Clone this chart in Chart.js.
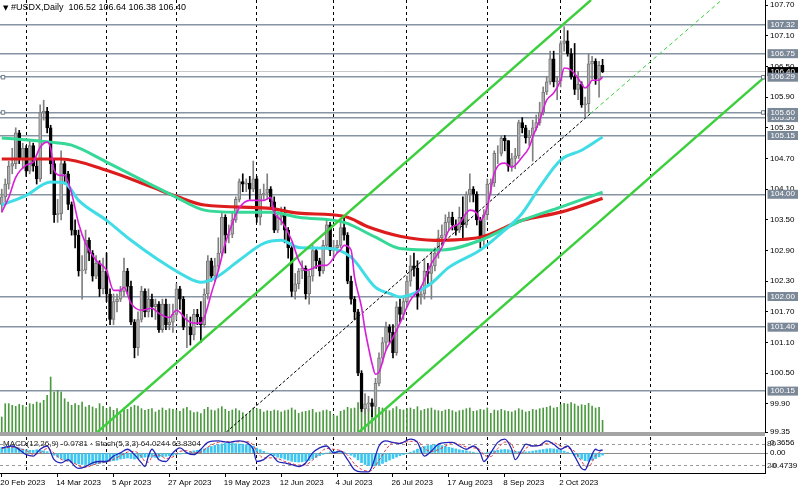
<!DOCTYPE html>
<html><head><meta charset="utf-8">
<script src="https://cdn.jsdelivr.net/npm/chart.js"></script>
<style>
html,body{margin:0;padding:0;background:#fff;}
#wrap{position:relative;width:800px;height:490px;overflow:hidden;background:#fff;font-family:"Liberation Sans",Arial,sans-serif;}
canvas{position:absolute;left:0;}
#main{top:0}
#ind{top:436px}
#sep{position:absolute;left:0;top:432px;width:765px;height:4px;background:#a4a4a4;}
#hdr{position:absolute;left:3px;top:2px;font-size:9px;color:#000;white-space:pre;}
#hdr .tri{font-size:7px;font-family:"DejaVu Sans",sans-serif;}
#indlbl{position:absolute;left:3px;top:439px;font-size:8px;color:#222;white-space:pre;}
</style></head>
<body><div id="wrap">
<canvas id="main" width="800" height="445"></canvas>
<div id="sep"></div>
<canvas id="ind" width="800" height="54"></canvas>
<div id="hdr"><span class="tri">▼</span> #USDX,Daily  106.52 106.64 106.38 106.40</div>
<div id="indlbl">MACD(12,26,9) -0.0781 · Stoch(5,3,3) 64.0244 63.8304</div>
</div>
<script>
// ---------- DATA ----------
// bar index 0 = 20 Feb 2023, one bar per weekday, last bar (172) = 18 Oct 2023
const openP = [
103.80,103.95,104.20,104.55,104.60,105.20,104.70,104.90,104.45,104.95,
104.55,104.30,105.60,105.62,105.30,104.60,103.60,103.62,104.60,104.40,
103.80,103.30,103.20,102.50,102.52,103.10,102.85,102.40,102.65,102.15,
102.50,102.05,101.55,101.90,101.95,102.10,102.50,102.20,101.50,101.00,
101.55,102.10,101.70,101.95,101.80,101.85,101.35,101.85,101.45,101.50,
101.65,102.15,101.95,101.40,101.40,101.25,101.65,101.60,101.45,102.05,
102.70,102.40,102.60,102.85,103.55,103.20,103.22,103.50,103.90,104.25,
104.20,104.22,104.10,104.30,103.55,104.00,104.02,104.10,103.85,103.30,
103.55,103.60,103.30,102.95,102.10,102.25,102.50,102.55,102.05,102.40,
102.90,102.70,102.50,103.00,103.40,102.90,102.95,103.00,103.35,103.20,
102.30,101.95,101.70,100.50,99.80,99.90,99.92,99.85,100.30,100.80,
101.10,101.40,101.30,100.90,101.80,101.65,101.90,102.30,102.60,102.55,
102.00,102.05,102.50,102.45,102.60,102.85,103.15,103.20,103.45,103.55,
103.40,103.30,103.55,103.40,104.00,104.10,104.00,103.50,103.15,103.60,
104.20,104.22,104.80,104.80,105.10,105.05,104.55,104.70,104.75,105.40,
105.30,105.10,105.15,105.30,105.40,105.60,106.00,106.20,106.65,106.20,
106.22,106.95,107.00,106.75,106.30,106.05,106.15,105.75,105.77,106.55,
106.60,106.25,106.52];
const highP = [
104.10,104.30,104.65,104.90,105.30,105.25,105.00,104.95,105.05,105.00,
104.70,105.75,105.84,105.70,105.35,104.70,103.90,104.85,104.65,104.45,
103.85,103.50,103.30,102.80,103.30,103.15,102.90,102.80,102.70,102.75,
102.85,102.15,102.05,102.05,102.20,102.75,102.55,102.30,101.55,101.70,
102.20,102.15,102.15,102.05,101.95,101.90,101.95,101.95,101.85,101.85,
102.25,102.20,102.00,101.65,101.60,101.75,101.75,101.90,102.15,102.80,
102.75,102.75,103.15,103.65,103.60,103.40,103.65,103.95,104.30,104.40,
104.30,104.35,104.65,104.35,104.10,104.20,104.40,104.15,103.95,103.65,
103.75,103.75,103.35,103.05,102.45,102.55,102.70,102.60,102.50,103.00,
102.95,102.75,103.10,103.50,103.45,103.10,103.10,103.50,103.55,103.25,
102.40,102.00,101.75,100.55,100.10,100.05,100.00,100.40,100.90,101.20,
101.50,101.45,101.45,101.90,101.95,102.00,102.40,102.80,102.85,102.70,
102.20,102.75,102.65,102.90,102.95,103.30,103.40,103.60,103.65,103.65,
103.50,103.75,103.95,104.05,104.40,104.15,104.05,103.55,103.70,104.30,
104.30,104.85,104.95,105.15,105.15,105.05,104.80,104.90,105.45,105.50,
105.35,105.25,105.45,105.55,105.80,106.10,106.30,106.80,106.80,106.30,
107.00,107.28,107.20,106.85,106.95,106.40,106.20,105.90,106.75,106.70,
106.65,106.60,106.64];
const lowP = [
103.65,103.85,104.10,104.40,104.50,104.60,104.50,104.35,104.40,104.45,
104.20,104.25,105.45,105.20,104.40,103.45,103.45,103.50,104.20,103.70,
103.20,102.95,102.40,101.95,102.45,102.70,102.30,102.35,102.00,102.05,
101.90,101.45,101.45,101.70,101.90,102.00,102.05,101.45,100.80,100.85,
101.50,101.60,101.60,101.60,101.55,101.30,101.30,101.35,101.35,101.30,
101.55,101.75,101.35,101.00,101.05,101.15,101.45,101.10,101.40,101.95,
102.30,102.30,102.50,102.80,102.85,103.05,103.15,103.45,103.85,104.05,
104.05,103.90,104.05,103.45,103.40,103.90,103.90,103.75,103.25,103.25,
103.40,103.05,102.75,102.00,101.95,102.15,102.35,101.95,101.85,102.30,
102.55,102.40,102.45,102.95,102.80,102.75,102.85,102.95,103.10,102.25,
101.85,101.55,100.45,99.75,99.70,99.75,99.65,99.80,100.25,100.70,
100.95,101.10,100.80,100.85,101.50,101.55,101.80,102.20,102.40,101.75,
101.85,101.95,102.25,101.95,102.50,102.75,103.00,103.10,103.30,103.30,
103.20,103.25,103.10,103.35,103.85,103.85,103.40,102.95,103.00,103.50,
104.00,104.15,104.60,104.75,104.85,104.45,104.45,104.50,104.70,105.20,
105.00,104.95,104.65,105.25,105.35,105.55,105.95,106.15,106.10,105.85,
106.10,106.80,106.70,106.25,105.95,105.85,105.70,105.52,105.60,106.25,
106.15,105.90,106.38];
const closeP = [
103.95,104.20,104.55,104.60,105.20,104.70,104.90,104.45,104.95,104.55,
104.30,105.60,105.62,105.30,104.60,103.60,103.62,104.60,104.40,103.80,
103.30,103.20,102.50,102.52,103.10,102.85,102.40,102.65,102.15,102.50,
102.05,101.55,101.90,101.95,102.10,102.50,102.20,101.50,101.00,101.55,
102.10,101.70,101.95,101.80,101.85,101.35,101.85,101.45,101.50,101.65,
102.15,101.95,101.40,101.40,101.25,101.65,101.60,101.45,102.05,102.70,
102.40,102.60,102.85,103.55,103.20,103.22,103.50,103.90,104.25,104.20,
104.22,104.10,104.30,103.55,104.00,104.02,104.10,103.85,103.30,103.55,
103.60,103.30,102.95,102.10,102.25,102.50,102.55,102.05,102.40,102.90,
102.70,102.50,103.00,103.40,102.90,102.95,103.00,103.35,103.20,102.30,
101.95,101.70,100.50,99.80,99.90,99.92,99.85,100.30,100.80,101.10,
101.40,101.30,100.90,101.80,101.65,101.90,102.30,102.60,102.55,102.00,
102.05,102.50,102.45,102.60,102.85,103.15,103.20,103.45,103.55,103.40,
103.30,103.55,103.40,104.00,104.10,104.00,103.50,103.15,103.60,104.20,
104.22,104.80,104.80,105.10,105.05,104.55,104.70,104.75,105.40,105.30,
105.10,105.15,105.30,105.40,105.60,106.00,106.20,106.65,106.20,106.22,
106.95,107.00,106.75,106.30,106.05,106.15,105.75,105.77,106.55,106.60,
106.25,106.52,106.40];
const volumes = [
45,85,85,80,77,83,80,75,85,83,90,87,95,110,165,120,125,120,100,90,
80,85,80,90,75,80,75,70,85,77,70,75,65,70,55,72,68,75,80,78,
70,65,68,70,60,66,72,65,70,68,66,62,70,74,64,58,60,55,68,74,
66,64,70,76,68,62,66,70,64,58,52,62,72,70,68,60,64,62,66,64,
60,64,66,72,66,56,60,62,64,68,58,60,64,66,62,50,48,62,66,74,
70,72,88,92,80,70,66,70,74,72,66,64,70,76,68,66,70,72,68,76,
64,68,70,72,66,64,62,66,68,64,60,64,66,70,72,62,64,68,66,72,
56,66,64,68,64,62,60,64,70,66,60,62,68,66,70,72,74,78,72,74,
82,86,84,88,84,78,82,80,86,78,72,74,35];
// moving averages, sampled [bar index, price]
const maMagenta = [[0,103.65],[2,103.94],[4,104.33],[7,104.57],[9,104.63],[11,104.92],[13,105.02],[14,104.90],[15,104.47],[17,104.37],[18,104.37],[20,104.02],[22,103.43],[24,103.04],[27,102.71],[30,102.51],[32,102.12],[34,102.12],[35,102.18],[37,101.87],[40,101.73],[43,101.77],[45,101.67],[48,101.59],[50,101.73],[53,101.54],[55,101.48],[57,101.48],[58,101.59],[60,102.06],[62,102.51],[64,103.04],[66,103.43],[68,103.73],[71,103.88],[73,103.88],[75,103.88],[77,103.94],[78,103.65],[80,103.49],[83,103.10],[85,102.71],[87,102.51],[89,102.55],[91,102.61],[93,102.61],[96,102.85],[97,102.91],[98,103.00],[100,102.91],[101,102.38],[103,101.79],[104,101.35],[105,101.00],[106,100.69],[107,100.48],[108,100.52],[110,100.95],[112,101.20],[114,101.48],[117,101.93],[120,102.18],[123,102.65],[126,102.96],[128,103.30],[131,103.43],[134,103.69],[136,103.63],[137,103.49],[139,103.75],[140,104.08],[141,104.41],[144,104.61],[146,104.53],[149,104.73],[151,104.92],[152,105.12],[154,105.45],[156,105.84],[158,105.98],[160,106.23],[161,106.47],[163,106.43],[165,106.27],[167,106.08],[168,106.13],[169,106.23],[171,106.23],[172,106.29]];
const maCyan = [[0,103.79],[7,103.98],[14,104.24],[18,104.22],[22,103.88],[30,103.49],[37,103.10],[45,102.71],[53,102.38],[57,102.28],[61,102.36],[68,102.71],[75,103.04],[80,103.10],[85,102.96],[94,102.94],[100,102.77],[107,102.18],[111,102.06],[114,101.99],[118,102.06],[123,102.26],[128,102.57],[137,102.91],[143,103.24],[149,103.63],[154,104.14],[160,104.67],[166,104.86],[172,105.12]];
const maTeal = [[0,105.10],[14,105.02],[20,104.96],[30,104.63],[43,104.18],[50,103.94],[58,103.69],[67,103.65],[77,103.65],[85,103.55],[98,103.45],[107,103.16],[114,102.94],[126,102.91],[137,103.10],[149,103.49],[160,103.75],[172,104.04]];
const maRed = [[0,104.69],[17,104.69],[30,104.47],[43,104.14],[50,103.96],[58,103.79],[76,103.73],[85,103.63],[98,103.57],[105,103.36],[114,103.18],[124,103.10],[137,103.16],[149,103.49],[160,103.65],[172,103.92]];
// trend lines [bar index, price]
const channelUpper = [[27.4,99.35],[168.7,107.80]];
const channelLower = [[102.3,99.35],[218.5,106.30]];
const midLine = [[64.3,99.35],[168.4,105.57]];
const midRay = [[168.4,105.57],[206.1,107.80]];
// horizontal levels (label drawing order: later ones are painted on top)
const lastPrice = 106.40;
const levelLines = [107.32,106.75,106.29,105.50,105.60,105.15,104.00,102.00,101.40,100.15];
const levelLabelOrder = [107.32,106.75,106.40,106.29,105.50,105.60,105.15,104.00,102.00,101.40,100.15];
const levelHandles = [[0.35,106.29],[218.0,106.29],[0.35,105.60],[218.0,105.60]];
const priceTicks = [107.70,107.10,106.50,105.90,105.30,104.70,104.10,103.50,102.90,102.30,101.70,101.10,100.50,99.90,99.35];
// indicator pane
const macdHist = [
0.20,0.22,0.24,0.22,0.20,0.18,
0.14,0.12,0.10,0.10,0.12,0.10,0.08,0.05,
0.00,-0.08,-0.15,-0.20,-0.25,
-0.30,-0.35,-0.38,-0.40,-0.42,-0.42,-0.43,-0.42,-0.40,-0.38,-0.36,-0.33,-0.30,-0.28,-0.26,
-0.22,-0.20,-0.18,-0.20,-0.22,-0.20,-0.17,-0.15,-0.14,-0.15,-0.16,-0.15,-0.13,-0.12,-0.10,-0.08,-0.06,-0.04,-0.02,
0.02,0.05,0.08,0.10,0.12,0.15,0.20,0.24,0.28,0.30,0.33,0.35,0.3656,0.36,0.34,0.33,0.32,0.30,0.28,0.25,
0.18,0.12,0.06,0.00,-0.05,-0.10,-0.15,-0.18,-0.22,-0.26,-0.30,-0.32,-0.33,-0.32,-0.30,-0.27,-0.22,-0.16,-0.10,-0.05,
0.00,0.04,0.06,0.06,0.05,0.03,-0.02,
-0.08,-0.15,-0.25,-0.35,-0.42,-0.46,-0.4739,-0.46,-0.43,-0.38,-0.32,-0.26,-0.20,-0.15,-0.10,-0.06,-0.02,0.03,
0.08,0.14,0.20,0.24,0.27,0.29,0.30,0.29,0.27,0.24,0.21,0.18,0.15,0.12,0.10,0.08,0.05,0.03,
0.00,-0.02,0.00,0.03,0.05,
0.08,0.10,0.12,0.13,0.12,0.09,0.06,0.05,0.04,0.04,0.05,0.07,0.09,0.11,0.13,0.15,0.16,0.15,0.13,
0.10,0.07,0.03,-0.02,-0.08,-0.15,-0.22,-0.28,-0.30,-0.26,-0.20,-0.14,-0.0781];
const stochK = [[0,70],[3,75],[7,51],[9,47],[11,66],[13,75],[15,37],[17,28],[19,37],[21,18],[22,13],[24,18],[26,28],[28,32],[30,32],[32,47],[34,56],[36,66],[38,51],[40,28],[41,18],[42,47],[43,66],[45,37],[47,32],[49,56],[51,70],[53,56],[55,51],[57,66],[59,85],[62,89],[65,85],[66,87],[68,89],[70,85],[72,66],[73,32],[75,37],[77,51],[79,32],[81,28],[83,23],[85,18],[87,28],[89,56],[91,70],[93,75],[95,56],[97,61],[99,37],[101,9],[103,3],[105,3],[106,18],[108,75],[110,89],[112,85],[114,82],[117,94],[119,85],[121,47],[123,61],[125,80],[128,85],[129,85],[131,75],[133,66],[135,75],[137,56],[138,32],[140,56],[142,85],[144,94],[146,66],[147,37],[149,66],[150,80],[152,75],[154,77],[156,89],[158,80],[160,66],[162,75],[164,47],[166,13],[167,9],[168,28],[170,66],[171,62],[172,64.02]];
const stochD = [[0,68],[3,72],[7,62],[9,52],[11,56],[13,68],[15,55],[17,38],[19,33],[21,26],[22,20],[24,16],[26,22],[28,28],[30,31],[32,38],[34,48],[36,58],[38,60],[40,45],[41,32],[42,30],[43,45],[45,50],[47,40],[49,45],[51,60],[53,62],[55,56],[57,58],[59,72],[62,85],[65,87],[66,86],[68,87],[70,87],[72,78],[73,60],[75,42],[77,42],[79,40],[81,32],[83,26],[85,22],[87,23],[89,36],[91,55],[93,68],[95,66],[97,62],[99,50],[101,25],[103,10],[105,5],[106,8],[108,35],[110,65],[112,84],[114,83],[117,88],[119,88],[121,68],[123,60],[125,65],[128,80],[129,84],[131,80],[133,72],[135,70],[137,64],[138,50],[140,46],[142,68],[144,86],[146,80],[147,60],[149,55],[150,68],[152,76],[154,76],[156,82],[158,84],[160,74],[162,70],[164,60],[166,32],[167,20],[168,18],[170,48],[172,63.83]];
const macdTicks = [0.3656, 0, -0.4739];
const macdTickLabels = ['0.3656','0.00','-0.4739'];
const stochTicks = [80, 20];
// time axis
const dateTickIdx = [0,16,32,48,64,80,96,112,128,144,160];
const dateTickLabels = ['20 Feb 2023','14 Mar 2023','5 Apr 2023','27 Apr 2023','19 May 2023','12 Jun 2023','4 Jul 2023','26 Jul 2023','17 Aug 2023','8 Sep 2023','2 Oct 2023'];
const monthSepIdx = [7,30,50,73,95,116,139,160,185.6];

// ---------- CHART ----------
const X_MIN = -0.5, X_MAX = 218.5;
const P_MIN = 99.35, P_MAX = 107.80;
const FONT = {family: "'Liberation Sans', Arial, sans-serif", size: 8};
Chart.defaults.animation = false;
Chart.defaults.font = FONT;
Chart.defaults.color = '#000';
const pts = a => a.map(([x, y]) => ({x, y}));
const noPad = s => { s.paddingTop = 0; s.paddingBottom = 0; s.paddingLeft = 0; s.paddingRight = 0; };
const isUp = closeP.map((c, i) => c >= openP[i]);
const lineDs = (label, data, color, width, order, extra) => Object.assign({
  type: 'line', label, data: pts(data), borderColor: color, borderWidth: width,
  pointRadius: 0, fill: false, order, cubicInterpolationMode: 'monotone', yAxisID: 'y'
}, extra || {});

const sepAxis = (position) => ({
  type: 'linear', position, min: X_MIN, max: X_MAX, offset: false,
  afterBuildTicks: s => { s.ticks = monthSepIdx.map(v => ({value: v})); },
  afterFit: s => { s.height = 0; noPad(s); },
  ticks: {display: false},
  grid: {display: true, drawOnChartArea: true, drawTicks: false, color: '#000', lineWidth: 1, offset: false},
  border: {display: false, dash: [3, 3]}
});

new Chart(document.getElementById('main'), {
  type: 'bar',
  data: {datasets: [
    {type: 'bar', label: 'Volume', yAxisID: 'yv', data: volumes.map((v, i) => ({x: i, y: v})),
     backgroundColor: '#4c9a40', barThickness: 1, grouped: false, order: 9},
    {type: 'bar', label: 'Range', yAxisID: 'y', data: lowP.map((l, i) => ({x: i, y: [l, highP[i]]})),
     backgroundColor: isUp.map(u => u ? '#808080' : '#000'), barThickness: 1, grouped: false, order: 8},
    {type: 'bar', label: 'Body', yAxisID: 'y', data: openP.map((o, i) => ({x: i, y: [o, closeP[i]]})),
     backgroundColor: isUp.map(u => u ? '#b0b0b0' : '#000'), borderColor: isUp.map(u => u ? '#777' : '#000'),
     borderWidth: 1, borderSkipped: false, barThickness: 3, grouped: false, order: 7},
    lineDs('MA red', maRed, '#dd1d1d', 3.2, 5),
    lineDs('MA teal', maTeal, '#36d898', 3, 4),
    lineDs('MA cyan', maCyan, '#41dde6', 3, 3),
    lineDs('Channel upper', channelUpper, '#3ccf3c', 2.4, 2, {cubicInterpolationMode: 'default'}),
    lineDs('Channel lower', channelLower, '#3ccf3c', 2.4, 2, {cubicInterpolationMode: 'default'}),
    lineDs('Mid line', midLine, '#000', 1, 2, {borderDash: [3, 2], cubicInterpolationMode: 'default'}),
    lineDs('Mid ray', midRay, '#3ccf3c', 1, 2, {borderDash: [4, 3], cubicInterpolationMode: 'default'}),
    lineDs('MA magenta', maMagenta, '#d81fd8', 1.6, 1),
    {type: 'line', label: 'Level handles', yAxisID: 'y', data: pts(levelHandles), showLine: false,
     pointStyle: 'rect', pointRadius: 2.5, pointBackgroundColor: '#fff', pointBorderColor: '#6b7785',
     pointBorderWidth: 1, order: 0}
  ]},
  options: {
    responsive: false, devicePixelRatio: 1, animation: false, events: [],
    layout: {autoPadding: false, padding: {left: 0, right: 0, top: 0, bottom: 13}},
    plugins: {legend: {display: false}, tooltip: {enabled: false}},
    scales: {
      x: sepAxis('bottom'),
      y: {
        type: 'linear', position: 'right', weight: 2, min: P_MIN, max: P_MAX,
        afterBuildTicks: s => { s.ticks = priceTicks.map(v => ({value: v})); },
        afterFit: s => { s.width = 35; noPad(s); },
        ticks: {autoSkip: false, padding: 2, font: FONT, color: '#000', callback: v => Number(v).toFixed(2)},
        grid: {drawOnChartArea: false, drawTicks: true, tickLength: 3, color: '#000'},
        border: {display: true, color: '#000', width: 1}
      },
      yl: {
        type: 'linear', position: 'right', weight: 0, min: P_MIN, max: P_MAX,
        afterBuildTicks: s => { s.ticks = levelLabelOrder.map(v => ({value: v})); },
        afterFit: s => { s.width = 0; noPad(s); },
        ticks: {autoSkip: false, mirror: true, crossAlign: 'near', padding: 30,
          font: {family: FONT.family, size: 8, lineHeight: 1}, color: '#fff',
          showLabelBackdrop: true,
          backdropColor: ctx => (ctx.tick && ctx.tick.value === lastPrice) ? '#000' : '#7b8897',
          backdropPadding: {left: 3, right: 3, top: 0.5, bottom: 0.5},
          callback: v => Number(v).toFixed(2)},
        grid: {drawOnChartArea: true, drawTicks: false,
          color: ctx => (ctx.tick && ctx.tick.value === lastPrice) ? '#c9c9c9' : '#8794a3',
          lineWidth: ctx => (ctx.tick && ctx.tick.value === lastPrice) ? 1 : 1.4},
        border: {display: false}
      },
      yv: {type: 'linear', display: false, min: 0, max: 1296}
    }
  }
});

new Chart(document.getElementById('ind'), {
  type: 'bar',
  data: {datasets: [
    {type: 'bar', label: 'MACD', yAxisID: 'ym', data: macdHist.map((v, i) => ({x: i, y: v})),
     backgroundColor: '#3cc6f0', barThickness: 2, grouped: false, order: 3},
    {type: 'line', label: 'Stoch %K', yAxisID: 'ys', data: pts(stochK), borderColor: '#2424b8', borderWidth: 1.3,
     pointRadius: 0, cubicInterpolationMode: 'monotone', order: 1},
    {type: 'line', label: 'Stoch %D', yAxisID: 'ys', data: pts(stochD), borderColor: '#e03a3a', borderWidth: 1,
     borderDash: [3, 2], pointRadius: 0, cubicInterpolationMode: 'monotone', order: 2}
  ]},
  options: {
    responsive: false, devicePixelRatio: 1, animation: false, events: [],
    layout: {autoPadding: false, padding: {left: 0, right: 0, top: 1, bottom: 0}},
    plugins: {legend: {display: false}, tooltip: {enabled: false}},
    scales: {
      xs: sepAxis('top'),
      x: {
        type: 'linear', position: 'bottom', min: X_MIN, max: X_MAX, offset: false,
        afterBuildTicks: s => { s.ticks = dateTickIdx.map(v => ({value: v})); },
        afterFit: s => { s.height = 17; noPad(s); },
        ticks: {autoSkip: false, maxRotation: 0, align: 'start', padding: 1, labelOffset: -1.5, font: FONT, color: '#000',
          callback: (v, i) => dateTickLabels[i]},
        grid: {drawOnChartArea: false, drawTicks: true, tickLength: 4, color: '#000', offset: false},
        border: {display: true, color: '#000', width: 1}
      },
      ym: {
        type: 'linear', position: 'right', weight: 2, min: -0.7294, max: 0.5846,
        afterBuildTicks: s => { s.ticks = macdTicks.map(v => ({value: v})); },
        afterFit: s => { s.width = 35; noPad(s); },
        ticks: {autoSkip: false, padding: 2, font: FONT, color: '#000', callback: (v, i) => macdTickLabels[i]},
        grid: {drawOnChartArea: true, drawTicks: true, tickLength: 3,
          color: ctx => (ctx.tick && ctx.tick.value === 0) ? '#8c8c8c' : 'rgba(0,0,0,0)'},
        border: {display: true, color: '#000', width: 1}
      },
      ys: {
        type: 'linear', position: 'right', weight: 0, min: 0, max: 100,
        afterBuildTicks: s => { s.ticks = stochTicks.map(v => ({value: v})); },
        afterFit: s => { s.width = 0; noPad(s); },
        ticks: {autoSkip: false, mirror: true, crossAlign: 'near', padding: 11, font: FONT, color: '#333', callback: v => String(v)},
        grid: {drawOnChartArea: true, drawTicks: false, color: '#9a9a9a', lineWidth: 1},
        border: {display: false, dash: [3, 3]}
      }
    }
  }
});
</script>
</body></html>
